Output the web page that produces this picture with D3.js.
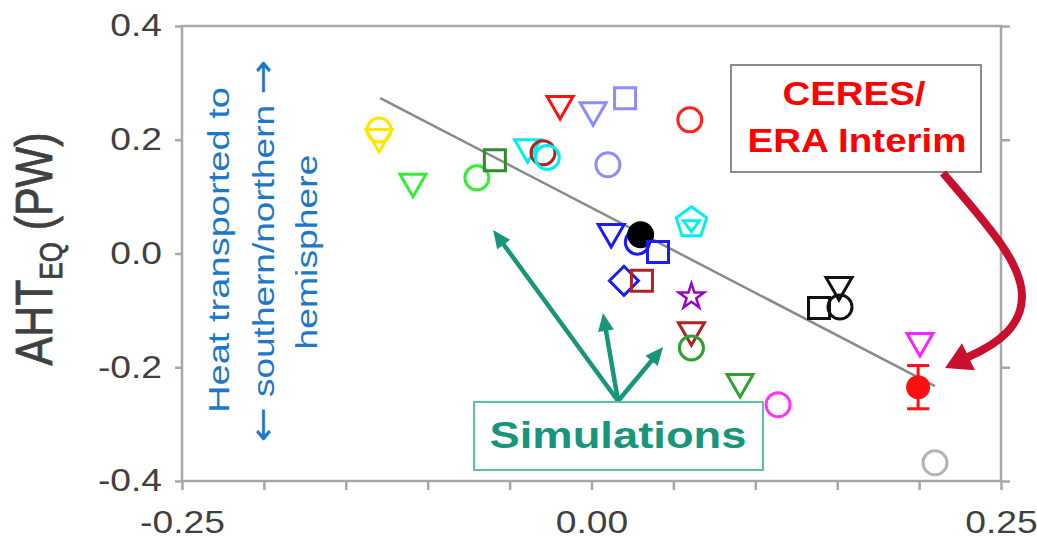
<!DOCTYPE html>
<html><head><meta charset="utf-8">
<script src="https://cdn.jsdelivr.net/npm/d3@7"></script>
<style>
body{margin:0;background:#fff}
svg{display:block}
text{font-family:"Liberation Sans",Arial,Helvetica,sans-serif}
</style>
</head><body>
<svg id="c" width="1037" height="545"></svg>
<script>
// ---------- data ----------
const xTickValues = [-0.25,-0.2,-0.15,-0.1,-0.05,0,0.05,0.1,0.15,0.2,0.25];
const xTickLabels = {"-0.25":"-0.25","0":"0.00","0.25":"0.25"};
const yTickValues = [-0.4,-0.2,0,0.2,0.4];
const yTickLabels = ["-0.4","-0.2","0.0","0.2","0.4"];

// simulations
const simX = [-0.1297,-0.1297,-0.109,-0.070,-0.059,-0.039,-0.0296,-0.027,-0.0192,0.001,0.0205,0.010,0.060,0.061,0.012,0.028,0.030,0.0406,0.0198,0.0308,0.061,0.061,0.061,0.0907,0.1139,0.1389,0.1517,0.1511,0.2005,0.2097];
const simY = [0.217,0.205,0.126,0.133,0.164,0.187,0.177,0.169,0.263,0.252,0.273,0.156,0.235,0.054,0.038,0.020,0.033,0.0026,-0.048,-0.048,-0.076,-0.135,-0.166,-0.226,-0.266,-0.0958,-0.094,-0.0554,-0.154,-0.368];
const simShape = ["circle","tri","tri","circle","square","tri","circle","circle","tri","tri","square","circle","circle","pentagon","tri","circle","dot","square","diamond","square","star","tri","circle","tri","circle","square","circle","tri","tri","circle"];
const simColor = ["#ffe600","#ffe600","#33ee33","#33ee33","#2e8b2e","#00f0f0","#b22222","#00f0f0","#ff1010","#8c8cff","#8c8cff","#8c8cff","#ff2020","#00f0f0","#1a1aff","#1a1aff","#000000","#1a1aff","#1a1aff","#b22222","#9b00c8","#b22222","#30a030","#30a030","#ff33ff","#111111","#111111","#111111","#ff22ff","#b4b4b4"];

// observation (CERES / ERA Interim)
const obsX = [0.1994];
const obsY = [-0.235];
const obsErr = [0.038];

// fitted line
const fitX = [-0.129, 0.2097];
const fitSlope = -1.495, fitIntercept = 0.0804;

// annotation arrow targets (data units)
const simArrowFrom = [0.0162,-0.2593];
const simArrowTo = [[-0.0601,0.0413],[0.0070,-0.1046],[0.0437,-0.1644]];

// ---------- layout ----------
const svg = d3.select("#c");
const x = d3.scaleLinear([-0.25,0.25],[182,1001]);
const y = d3.scaleLinear([-0.4,0.4],[481,26]);
const axisCol = "#a8a8a8";

function fitText(sel, len){ sel.attr("textLength",len).attr("lengthAdjust","spacingAndGlyphs"); }
function stretch(sel,k){ sel.each(function(){ const L=this.getComputedTextLength(); d3.select(this).attr("textLength",L*k).attr("lengthAdjust","spacingAndGlyphs"); }); }

// frame
svg.append("rect").attr("x",x(-0.25)).attr("y",y(0.4)).attr("width",x(0.25)-x(-0.25)).attr("height",y(-0.4)-y(0.4))
  .attr("fill","none").attr("stroke",axisCol).attr("stroke-width",2.5);

// axes
const gL = svg.append("g").attr("transform",`translate(${x(-0.25)},0)`)
  .call(d3.axisLeft(y).tickValues(yTickValues).tickFormat((d,i)=>yTickLabels[i]).tickSize(7).tickPadding(13));
const gB = svg.append("g").attr("transform",`translate(0,${y(-0.4)})`)
  .call(d3.axisBottom(x).tickValues(xTickValues).tickFormat(d=>xTickLabels[String(+d.toFixed(2))]||"").tickSize(9).tickPadding(21));
const gR = svg.append("g").attr("transform",`translate(${x(0.25)},0)`)
  .call(d3.axisRight(y).tickValues(yTickValues).tickFormat("").tickSize(9));
[gL,gB,gR].forEach(g=>{
  g.select(".domain").remove();
  g.selectAll(".tick line").attr("stroke",axisCol).attr("stroke-width",2.5);
  g.selectAll("text").attr("font-size",31).attr("fill","#404040");
});
stretch(gL.selectAll("text"),1.2);
stretch(gB.selectAll("text"),1.2);

// y title
const yt = svg.append("g").attr("transform","translate(52,249) scale(1.3,1) rotate(-90)")
  .append("text").attr("text-anchor","middle").attr("font-size",40).attr("fill","#404040")
  .attr("stroke","#404040").attr("stroke-width",0.6);
yt.append("tspan").text("AHT");
yt.append("tspan").text("EQ").attr("font-size",24).attr("dy",8);
yt.append("tspan").text(" (PW)").attr("dy",-8);
fitText(yt,233);

// blue annotation
const blue = "#1e78c8";
const blueBase = [229,274,317], blueLen=[326,383,195], blueCy=[250,251,252];
const blueLines = [[["","Heat transported to",""]],[["\u2190"," southern/northern ","\u2192"]],[["","hemisphere",""]]];
blueLines.forEach((parts,i)=>{
  const tx = svg.append("text").attr("transform",`translate(${blueBase[i]},${blueCy[i]}) rotate(-90)`)
    .attr("text-anchor","middle").attr("font-size",30).attr("fill",blue);
  const p = parts[0];
  if(p[0]) tx.append("tspan").attr("font-family","DejaVu Sans").attr("font-size",34).text(p[0]);
  tx.append("tspan").text(p[1]);
  if(p[2]) tx.append("tspan").attr("font-family","DejaVu Sans").attr("font-size",34).text(p[2]);
  fitText(tx,blueLen[i]);
});

// fitted line
svg.append("line")
  .attr("x1",x(fitX[0])).attr("y1",y(fitIntercept+fitSlope*fitX[0]))
  .attr("x2",x(fitX[1])).attr("y2",y(fitIntercept+fitSlope*fitX[1]))
  .attr("stroke","#8a8a8a").attr("stroke-width",2.5);

// markers
function pentagon(r){ const p=d3.range(5).map(k=>{const a=-Math.PI/2+k*2*Math.PI/5; return [r*Math.cos(a),r*Math.sin(a)];}); return "M"+p.join("L")+"Z"; }
const markerPath = {
  circle: d3.symbol(d3.symbolCircle, Math.PI*12*12)(),
  dot: d3.symbol(d3.symbolCircle, Math.PI*12*12)(),
  tri: "M-13,-7.5L13,-7.5L0,15Z",
  square: "M-10.5,-10.5H10.5V10.5H-10.5Z",
  diamond: "M0,-14.5L14.5,0L0,14.5L-14.5,0Z",
  star: d3.symbol(d3.symbolStar, 200)(),
  pentagon: pentagon(16)+"M-8,-2L8,-2L0,9Z"
};
svg.append("g").selectAll("path").data(simX.map((v,i)=>i)).join("path")
  .attr("transform",i=>`translate(${x(simX[i])},${y(simY[i])})`)
  .attr("d",i=>markerPath[simShape[i]])
  .attr("fill",i=>simShape[i]==="dot"?simColor[i]:"none")
  .attr("stroke",i=>simColor[i])
  .attr("stroke-width",i=>simShape[i]==="star"?2.5:3)
  .attr("stroke-linejoin","miter");

// observation with error bar
const obsCol = "#ff1010";
const og = svg.append("g");
obsX.forEach((ox,i)=>{
  og.append("line").attr("x1",x(ox)).attr("x2",x(ox)).attr("y1",y(obsY[i]+obsErr[i])).attr("y2",y(obsY[i]-obsErr[i])).attr("stroke",obsCol).attr("stroke-width",3);
  [obsY[i]+obsErr[i],obsY[i]-obsErr[i]].forEach(v=>og.append("line").attr("x1",x(ox)-11).attr("x2",x(ox)+11).attr("y1",y(v)).attr("y2",y(v)).attr("stroke",obsCol).attr("stroke-width",3));
  og.append("circle").attr("cx",x(ox)).attr("cy",y(obsY[i])).attr("r",12).attr("fill",obsCol);
});

// Simulations arrows
const teal = "#17967b";
function arrow(g,x1,y1,x2,y2,col,w,hl,hw){
  const a=Math.atan2(y2-y1,x2-x1), bx=x2-hl*Math.cos(a), by=y2-hl*Math.sin(a);
  g.append("line").attr("x1",x1).attr("y1",y1).attr("x2",bx+2*Math.cos(a)).attr("y2",by+2*Math.sin(a)).attr("stroke",col).attr("stroke-width",w);
  const px=-Math.sin(a)*hw/2, py=Math.cos(a)*hw/2;
  g.append("path").attr("d",`M${x2},${y2}L${bx+px},${by+py}L${bx-px},${by-py}Z`).attr("fill",col);
}
const ag = svg.append("g");
simArrowTo.forEach(t=>arrow(ag,x(simArrowFrom[0]),y(simArrowFrom[1]),x(t[0]),y(t[1]),teal,4.5,18,16));

// Simulations box
svg.append("rect").attr("x",474).attr("y",402).attr("width",289).attr("height",68).attr("fill","#fff").attr("stroke","#5cbfa6").attr("stroke-width",2);
fitText(svg.append("text").attr("x",618).attr("y",448).attr("text-anchor","middle").attr("font-size",37).attr("font-weight","bold").attr("fill",teal).text("Simulations"),257);

// CERES box
svg.append("rect").attr("x",731).attr("y",65).attr("width",250).attr("height",107).attr("fill","#fff").attr("stroke","#8c8c8c").attr("stroke-width",2);
fitText(svg.append("text").attr("x",854).attr("y",105).attr("text-anchor","middle").attr("font-size",33).attr("font-weight","bold").attr("fill","#ff0000").text("CERES/"),143);
fitText(svg.append("text").attr("x",857).attr("y",152).attr("text-anchor","middle").attr("font-size",33).attr("font-weight","bold").attr("fill","#ff0000").text("ERA Interim"),219);

// curved crimson arrow
const crim = "#c8102e";
svg.append("path").attr("d","M943,173 C985,222 1022,262 1022,296 C1022,325 1000,343 968,357")
  .attr("fill","none").attr("stroke",crim).attr("stroke-width",8);
{
  const tipX=945, tipY=368, a=Math.atan2(368-357,945-968), hl=26, hw=30;
  const bx=tipX-hl*Math.cos(a), by=tipY-hl*Math.sin(a), px=-Math.sin(a)*hw/2, py=Math.cos(a)*hw/2;
  svg.append("path").attr("d",`M${tipX},${tipY}L${bx+px},${by+py}L${bx-px},${by-py}Z`).attr("fill",crim);
}
</script>
</body></html>
